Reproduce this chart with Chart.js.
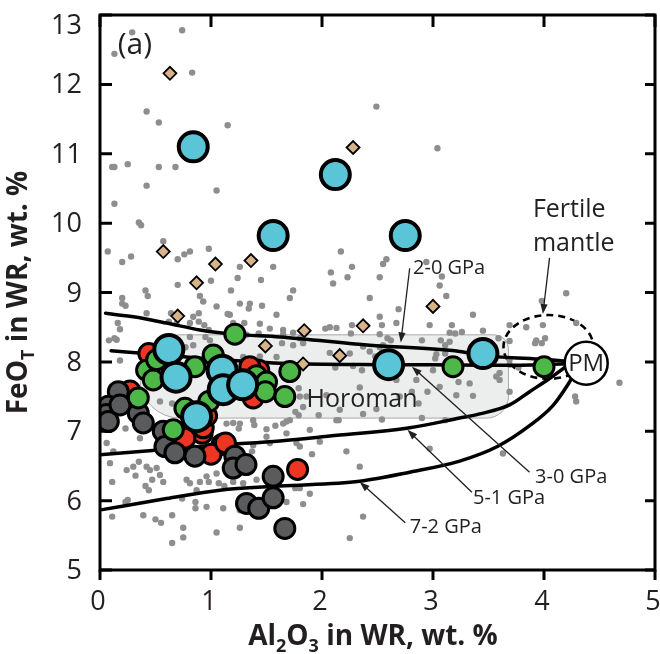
<!DOCTYPE html>
<html>
<head>
<meta charset="utf-8">
<script src="https://cdn.jsdelivr.net/npm/chart.js@4.4.1/dist/chart.umd.min.js"></script>
<style>
  html, body { margin: 0; padding: 0; background: #fff; }
  #wrap { width: 660px; height: 654px; }
</style>
</head>
<body>
<div id="wrap"><canvas id="c" width="660" height="654"></canvas></div>
<script>
// ---- data (Al2O3 wt.%, FeOT wt.%) ----
const xTicks = [0, 1, 2, 3, 4, 5];
const yTicks = [5, 6, 7, 8, 9, 10, 11, 12, 13];

// global peridotite compilation
const peridotites = [
  [0.29,12.75],[0.74,12.78],[0.13,12.44],[0.83,12.17],[0.42,11.61],[0.53,11.45],[1.15,11.41],[2.49,11.68],
  [0.11,10.81],[0.13,10.81],[0.25,10.85],[0.53,10.81],[0.68,10.81],[0.42,10.54],[1.05,10.47],[0.13,10.28],
  [0.35,10.01],[0.37,9.97],[0.07,9.59],[0.20,9.44],[0.28,9.52],[0.57,9.74],[0.70,9.48],[0.76,9.55],[0.81,9.59],[0.98,9.63],
  [1.26,9.37],[1.56,9.37],[2.17,9.59],[2.27,9.37],[3.04,11.08],[2.23,9.22],[2.10,9.13],[2.55,9.41],[2.58,9.48],[2.52,9.22],
  [3.06,9.10],[3.08,9.23],[2.94,9.44],[2.43,8.92],[2.69,8.76],[4.20,8.99],[3.98,8.88],[3.99,8.53],[4.29,8.56],[3.36,8.68],
  [3.17,8.53],[2.67,8.56],[2.54,8.53],[2.27,8.53],[2.13,8.49],[1.24,9.21],[1.45,9.18],[0.90,8.95],[0.93,8.87],[1.18,9.03],
  [1.74,9.03],[1.71,8.92],[0.20,8.92],[0.20,8.84],[0.23,8.81],[0.41,9.03],[0.43,8.95],[0.42,8.70],[0.89,8.70],[0.89,8.58],
  [0.94,8.53],[1.05,8.80],[1.26,8.84],[1.35,8.84],[1.34,8.77],[1.59,8.68],[1.17,8.68],[0.69,8.55],[0.84,8.65],[0.70,9.11],
  [0.16,8.56],[0.18,8.47],[0.13,8.34],[0.08,8.31],[0.64,8.70],[0.62,8.58],[0.81,8.56],[1.15,8.69],[1.46,8.81],[1.20,8.56],
  [1.30,8.56],[1.44,8.55],[1.00,9.17],[1.53,8.48],[0.95,8.36],[0.99,8.31],[0.81,8.36],[0.84,8.24],[0.77,8.21],[1.04,8.17],
  [1.06,8.20],[0.18,8.02],[1.59,8.07],[1.44,8.08],[1.29,8.07],[2.08,9.29],[2.03,8.48],[2.07,8.50],[2.26,8.41],[1.65,8.46],
  [1.65,8.40],[1.74,8.42],[2.52,8.65],[2.52,8.40],[3.12,8.95],[3.20,8.41],[3.15,8.29],[2.90,8.31],[3.07,8.31],[3.11,8.24],
  [2.59,8.34],[2.62,8.31],[2.55,8.24],[2.37,8.22],[2.52,8.21],[2.43,8.15],[2.25,8.12],[2.07,8.13],[2.12,7.92],[2.28,7.94],
  [2.48,8.08],[3.02,8.05],[3.03,8.11],[3.11,8.12],[2.85,7.74],[2.67,7.74],[2.34,7.63],[1.79,7.62],[1.80,7.50],[2.04,7.52],
  [1.83,8.27],[1.64,8.27],[1.74,8.24],[3.45,8.45],[3.69,8.53],[3.84,8.50],[3.59,8.34],[3.69,8.30],[3.93,8.31],[3.98,8.27],
  [4.01,8.34],[3.92,8.27],[3.60,7.84],[3.60,7.74],[3.33,7.69],[3.36,7.51],[3.77,7.92],[3.69,7.96],[4.68,7.70],[4.28,7.50],
  [4.29,7.43],[2.97,8.53],[3.15,8.42],[3.26,8.43],[3.47,8.29],[3.69,8.03],[3.57,7.79],[3.69,7.57],[2.36,7.88],[2.57,7.88],
  [3.00,7.88],[3.06,7.64],[2.95,7.57],[2.81,7.57],[2.70,7.50],[2.87,7.40],[3.21,7.52],[3.23,7.71],[2.13,7.16],[2.37,7.25],
  [2.54,7.17],[2.90,7.19],[2.22,6.71],[2.34,6.49],[2.37,5.77],[2.25,5.46],[2.97,6.75],[3.63,6.68],[1.76,7.28],[1.79,7.23],
  [1.68,7.14],[1.65,7.11],[1.97,7.23],[2.16,7.31],[2.49,7.32],[2.15,7.16],[3.11,7.16],[1.98,6.85],[1.91,6.67],[1.76,6.18],
  [1.80,6.18],[1.89,6.10],[1.83,5.95],[1.68,5.98],
  [0.06,6.83],[0.12,6.71],[0.23,7.04],[0.36,6.90],[0.54,7.43],[0.65,7.40],[1.14,7.11],[1.20,7.12],[1.26,7.11],[1.25,7.04],
  [1.39,7.09],[1.50,7.03],[1.58,7.08],[1.50,6.92],[1.38,6.80],[1.37,6.71],[0.09,6.54],[0.11,6.27],[0.24,6.44],[0.30,6.49],
  [0.35,6.56],[0.32,6.36],[0.42,6.49],[0.45,6.44],[0.51,6.47],[0.47,6.30],[0.41,6.21],[0.44,6.15],[0.57,6.27],[0.54,6.37],
  [0.78,6.30],[0.81,6.25],[0.87,6.15],[0.90,6.27],[0.96,6.35],[0.98,6.27],[1.05,6.39],[1.07,6.25],[1.12,6.21],[1.20,6.27],
  [1.29,6.25],[1.41,6.30],[0.25,6.01],[0.23,5.98],[0.39,5.79],[0.50,5.73],[0.55,5.68],[0.65,5.79],[0.75,5.61],[0.75,5.47],
  [0.65,5.39],[0.74,6.03],[0.86,5.98],[0.86,5.89],[0.96,5.91],[1.11,5.89],[1.26,5.86],[1.05,5.54],[1.26,5.61],[0.11,5.77],
  [1.71,7.16],[1.83,7.35],[1.86,7.50],[1.77,6.83],[1.53,6.83],[0.15,8.32],[0.98,8.46],[1.32,8.39],[1.43,8.41],[1.80,8.34],
  [1.38,7.16],[1.68,6.97],[1.80,6.78],[1.89,7.02]
];

const tanSamples = [
  [0.63,12.16],[2.28,11.09],[0.57,9.59],[1.04,9.41],[1.36,9.46],[0.87,9.14],[0.70,8.66],
  [1.49,8.23],[1.84,8.45],[2.37,8.52],[3.00,8.80],[2.16,8.09],[1.83,7.97]
];

const redSamples = [
  [1.78,6.45],[1.10,6.81],[1.00,6.67],[0.92,6.97],[0.765,6.90],[1.38,7.48],[0.44,8.12],
  [0.27,7.58],[1.43,7.88],[0.93,7.05],[0.96,7.22],[1.35,7.93],[1.13,6.83]
];

const darkSamples = [
  [0.165,7.57],[0.075,7.36],[0.06,7.24],[0.075,7.14],[0.18,7.38],[0.345,7.26],[0.39,7.12],
  [0.57,7.00],[0.585,6.78],[0.675,6.69],[0.855,6.64],[1.215,6.64],[1.20,6.47],[1.315,6.52],
  [1.56,6.35],[1.32,5.96],[1.43,5.89],[1.56,6.04],[1.665,5.60]
];

const greenSamples = [
  [1.215,8.40],[0.345,7.48],[0.42,7.88],[0.48,7.74],[0.51,8.03],[0.855,7.93],[1.02,8.10],
  [1.41,7.80],[1.71,7.86],[1.50,7.71],[1.49,7.57],[1.665,7.50],[0.66,7.02],[0.765,7.33],
  [0.98,7.43],[3.18,7.93],[4.00,7.93]
];

const blueSamples = [
  [0.84,11.10],[2.12,10.70],[1.56,9.82],[2.75,9.82],[2.60,7.96],[3.45,8.12],
  [0.62,8.18],[0.685,7.78],[1.10,7.88],[1.11,7.60],[1.285,7.67],[0.87,7.21]
];

const primitiveMantle = [[4.38, 7.98]];

// melting trends toward PM
const trend20 = [[0.05,8.70],[0.30,8.65],[0.60,8.56],[0.90,8.46],[1.20,8.40],[1.62,8.36],[2.43,8.24],[3.24,8.15],[3.45,8.09],[3.96,8.04],[4.38,7.98]];
const trend30 = [[0.10,8.16],[0.50,8.11],[1.00,8.04],[1.62,7.98],[2.60,7.96],[3.24,7.955],[3.70,7.95],[4.38,7.98]];
const trend51 = [[0.00,6.66],[1.08,6.80],[1.62,6.86],[2.07,6.93],[2.79,7.05],[3.24,7.19],[3.42,7.25],[3.69,7.38],[3.87,7.57],[4.05,7.76],[4.22,7.96]];
const trend72 = [[0.02,5.87],[0.60,6.03],[1.08,6.15],[1.62,6.21],[2.34,6.28],[2.79,6.41],[3.24,6.57],[3.58,6.78],[3.87,7.08],[4.08,7.37],[4.21,7.66],[4.28,7.85]];

// ---- styling ----
const FONT = '"Open Sans", "Noto Sans", "DejaVu Sans", sans-serif';
const INK = '#231f20';

const horomanField = { x0: 0.36, x1: 3.68, yLow: 7.19, yHigh: 8.39, radii: [40, 14, 22, 40] };
const fertileMantle = { cx: 4.04, cy: 8.215, rx: 0.405, ry: 0.46 };

const arrowNotes = [
  { text: '2-0 GPa', pos: [2.82, 9.27], tail: [2.79, 9.35], head: [2.71, 8.28] },
  { text: '3-0 GPa', pos: [3.92, 6.25], tail: [3.87, 6.41], head: [2.81, 7.93] },
  { text: '5-1 GPa', pos: [3.36, 5.95], tail: [3.35, 6.12], head: [2.77, 7.02] },
  { text: '7-2 GPa', pos: [2.79, 5.53], tail: [2.75, 5.68], head: [2.34, 6.27] }
];

const toXY = arr => arr.map(p => ({ x: p[0], y: p[1] }));

function circles(label, data, color, r, bw, order) {
  return {
    label, data: toXY(data), order,
    pointRadius: r, pointHoverRadius: r,
    backgroundColor: color, borderColor: '#000', borderWidth: bw,
    showLine: false
  };
}

function trend(label, data) {
  return {
    label, data: toXY(data), order: 6,
    showLine: true, pointRadius: 0, pointHoverRadius: 0,
    borderColor: '#000', borderWidth: 3.5, fill: false,
    cubicInterpolationMode: 'monotone', borderCapStyle: 'round'
  };
}

function arrow(ctx, x1, y1, x2, y2) {
  const a = Math.atan2(y2 - y1, x2 - x1);
  const L = 10, W = 3.6;
  ctx.beginPath();
  ctx.moveTo(x1, y1);
  ctx.lineTo(x2 - Math.cos(a) * L * 0.8, y2 - Math.sin(a) * L * 0.8);
  ctx.stroke();
  ctx.beginPath();
  ctx.moveTo(x2, y2);
  ctx.lineTo(x2 - Math.cos(a) * L - Math.sin(a) * W, y2 - Math.sin(a) * L + Math.cos(a) * W);
  ctx.lineTo(x2 - Math.cos(a) * L + Math.sin(a) * W, y2 - Math.sin(a) * L - Math.cos(a) * W);
  ctx.closePath();
  ctx.fill();
}

function richText(ctx, parts, cx, baseline, size) {
  const main = `bold ${size}px ${FONT}`;
  const sub = `bold ${Math.round(size * 0.66)}px ${FONT}`;
  let total = 0;
  parts.forEach(p => { ctx.font = p.sub ? sub : main; total += ctx.measureText(p.t).width; });
  let x = cx - total / 2;
  parts.forEach(p => {
    ctx.font = p.sub ? sub : main;
    ctx.fillText(p.t, x, baseline + (p.sub ? size * 0.24 : 0));
    x += ctx.measureText(p.t).width;
  });
}

const backdrop = {
  id: 'backdrop',
  beforeDatasetsDraw(chart) {
    const { ctx, scales: { x, y } } = chart;
    // Horoman field
    const f = horomanField;
    const L = x.getPixelForValue(f.x0), R = x.getPixelForValue(f.x1);
    const T = y.getPixelForValue(f.yHigh), B = y.getPixelForValue(f.yLow);
    const [tl, tr, br, bl] = f.radii;
    ctx.save();
    ctx.beginPath();
    ctx.moveTo(L + tl, T);
    ctx.lineTo(R - tr, T);
    ctx.arcTo(R, T, R, T + tr, tr);
    ctx.lineTo(R, B - br);
    ctx.arcTo(R, B, R - br, B, br);
    ctx.lineTo(L + bl, B);
    ctx.arcTo(L, B, L, B - bl, bl);
    ctx.lineTo(L, T + tl);
    ctx.arcTo(L, T, L + tl, T, tl);
    ctx.closePath();
    ctx.fillStyle = '#eceded';
    ctx.fill();
    ctx.lineWidth = 1;
    ctx.strokeStyle = '#a7a9ac';
    ctx.stroke();
    // fertile mantle field
    const e = fertileMantle;
    const ex = x.getPixelForValue(e.cx), ey = y.getPixelForValue(e.cy);
    const erx = x.getPixelForValue(e.cx + e.rx) - ex;
    const ery = ey - y.getPixelForValue(e.cy + e.ry);
    ctx.beginPath();
    ctx.ellipse(ex, ey, erx, ery, 0, 0, Math.PI * 2);
    ctx.setLineDash([7, 5]);
    ctx.lineWidth = 2.6;
    ctx.strokeStyle = '#000';
    ctx.stroke();
    ctx.restore();
  }
};

const notes = {
  id: 'notes',
  afterDatasetsDraw(chart) {
    const { ctx, scales: { x, y } } = chart;
    const X = v => x.getPixelForValue(v), Y = v => y.getPixelForValue(v);
    ctx.save();
    ctx.fillStyle = INK;
    ctx.strokeStyle = INK;
    ctx.lineWidth = 1.3;
    ctx.textBaseline = 'alphabetic';
    ctx.textAlign = 'left';
    ctx.font = `20px ${FONT}`;
    arrowNotes.forEach(n => {
      ctx.fillText(n.text, X(n.pos[0]), Y(n.pos[1]));
      arrow(ctx, X(n.tail[0]), Y(n.tail[1]), X(n.head[0]), Y(n.head[1]));
    });
    // fertile mantle label
    ctx.font = `25px ${FONT}`;
    ctx.fillText('Fertile', X(3.90), Y(10.09));
    ctx.fillText('mantle', X(3.90), Y(9.60));
    arrow(ctx, X(4.05), Y(9.50), X(3.99), Y(8.69));
    // Horoman
    ctx.fillText('Horoman', X(1.86), Y(7.35));
    // panel letter
    ctx.font = `30px ${FONT}`;
    ctx.fillText('(a)', X(0.16), Y(12.44));
    // PM
    ctx.font = `24px ${FONT}`;
    ctx.textAlign = 'center';
    ctx.textBaseline = 'middle';
    ctx.fillText('PM', X(primitiveMantle[0][0]), Y(primitiveMantle[0][1]) + 1);
    ctx.restore();
  }
};

const frame = {
  id: 'frame',
  afterDraw(chart) {
    const { ctx, chartArea: a, scales: { x, y } } = chart;
    ctx.save();
    ctx.strokeStyle = '#000';
    ctx.lineWidth = 3;
    ctx.strokeRect(a.left, a.top, a.right - a.left, a.bottom - a.top);
    ctx.beginPath();
    yTicks.forEach(v => {
      const p = y.getPixelForValue(v);
      ctx.moveTo(a.left, p); ctx.lineTo(a.left + 12, p);
      ctx.moveTo(a.right, p); ctx.lineTo(a.right - 10, p);
    });
    xTicks.forEach(v => {
      const p = x.getPixelForValue(v);
      ctx.moveTo(p, a.top); ctx.lineTo(p, a.top + 12);
      ctx.moveTo(p, a.bottom); ctx.lineTo(p, a.bottom + 10);
    });
    ctx.stroke();

    ctx.fillStyle = INK;
    ctx.font = `27px ${FONT}`;
    ctx.textBaseline = 'alphabetic';
    ctx.textAlign = 'right';
    yTicks.forEach(v => {
      const p = Math.max(y.getPixelForValue(v), a.top + 10);
      ctx.fillText(String(v), a.left - 18, p + 9);
    });
    ctx.textAlign = 'center';
    xTicks.forEach(v => {
      ctx.fillText(String(v), x.getPixelForValue(v) - 2, a.bottom + 40);
    });

    ctx.textAlign = 'left';
    richText(ctx, [{ t: 'Al' }, { t: '2', sub: true }, { t: 'O' }, { t: '3', sub: true }, { t: ' in WR, wt. %' }],
      373, 645, 28);
    ctx.save();
    ctx.translate(27, 292.5);
    ctx.rotate(-Math.PI / 2);
    richText(ctx, [{ t: 'FeO' }, { t: 'T', sub: true }, { t: ' in WR, wt. %' }], 0, 0, 28);
    ctx.restore();
    ctx.restore();
  }
};

new Chart(document.getElementById('c'), {
  type: 'scatter',
  data: {
    datasets: [
      circles('PM', primitiveMantle, '#ffffff', 21.5, 2.5, 0),
      circles('blue', blueSamples, '#5bc5d8', 14.5, 4, 1),
      circles('green', greenSamples, '#4db848', 10, 3, 2),
      circles('dark', darkSamples, '#5a5b5d', 10, 3, 3),
      circles('red', redSamples, '#ee3524', 10, 3, 4),
      Object.assign(circles('tan', tanSamples, '#d8b38a', 6.5, 1.8, 5), { pointStyle: 'rectRot' }),
      trend('2-0 GPa', trend20),
      trend('3-0 GPa', trend30),
      trend('5-1 GPa', trend51),
      trend('7-2 GPa', trend72),
      {
        label: 'peridotites', data: toXY(peridotites), order: 10,
        pointRadius: 3.2, pointHoverRadius: 3.2, borderWidth: 0,
        backgroundColor: '#8e8e8e'
      }
    ]
  },
  options: {
    responsive: false,
    devicePixelRatio: 1,
    animation: false,
    events: [],
    layout: { autoPadding: false, padding: { top: 15, right: 5, left: 0, bottom: 0 } },
    plugins: { legend: { display: false }, tooltip: { enabled: false } },
    scales: {
      x: {
        type: 'linear', min: 0, max: 5,
        grid: { display: false, drawTicks: false }, border: { display: false },
        ticks: { display: false },
        afterFit(s) { s.height = 84; }
      },
      y: {
        type: 'linear', min: 5, max: 13,
        grid: { display: false, drawTicks: false }, border: { display: false },
        ticks: { display: false },
        afterFit(s) { s.width = 100; }
      }
    }
  },
  plugins: [backdrop, notes, frame]
});
</script>
</body>
</html>
